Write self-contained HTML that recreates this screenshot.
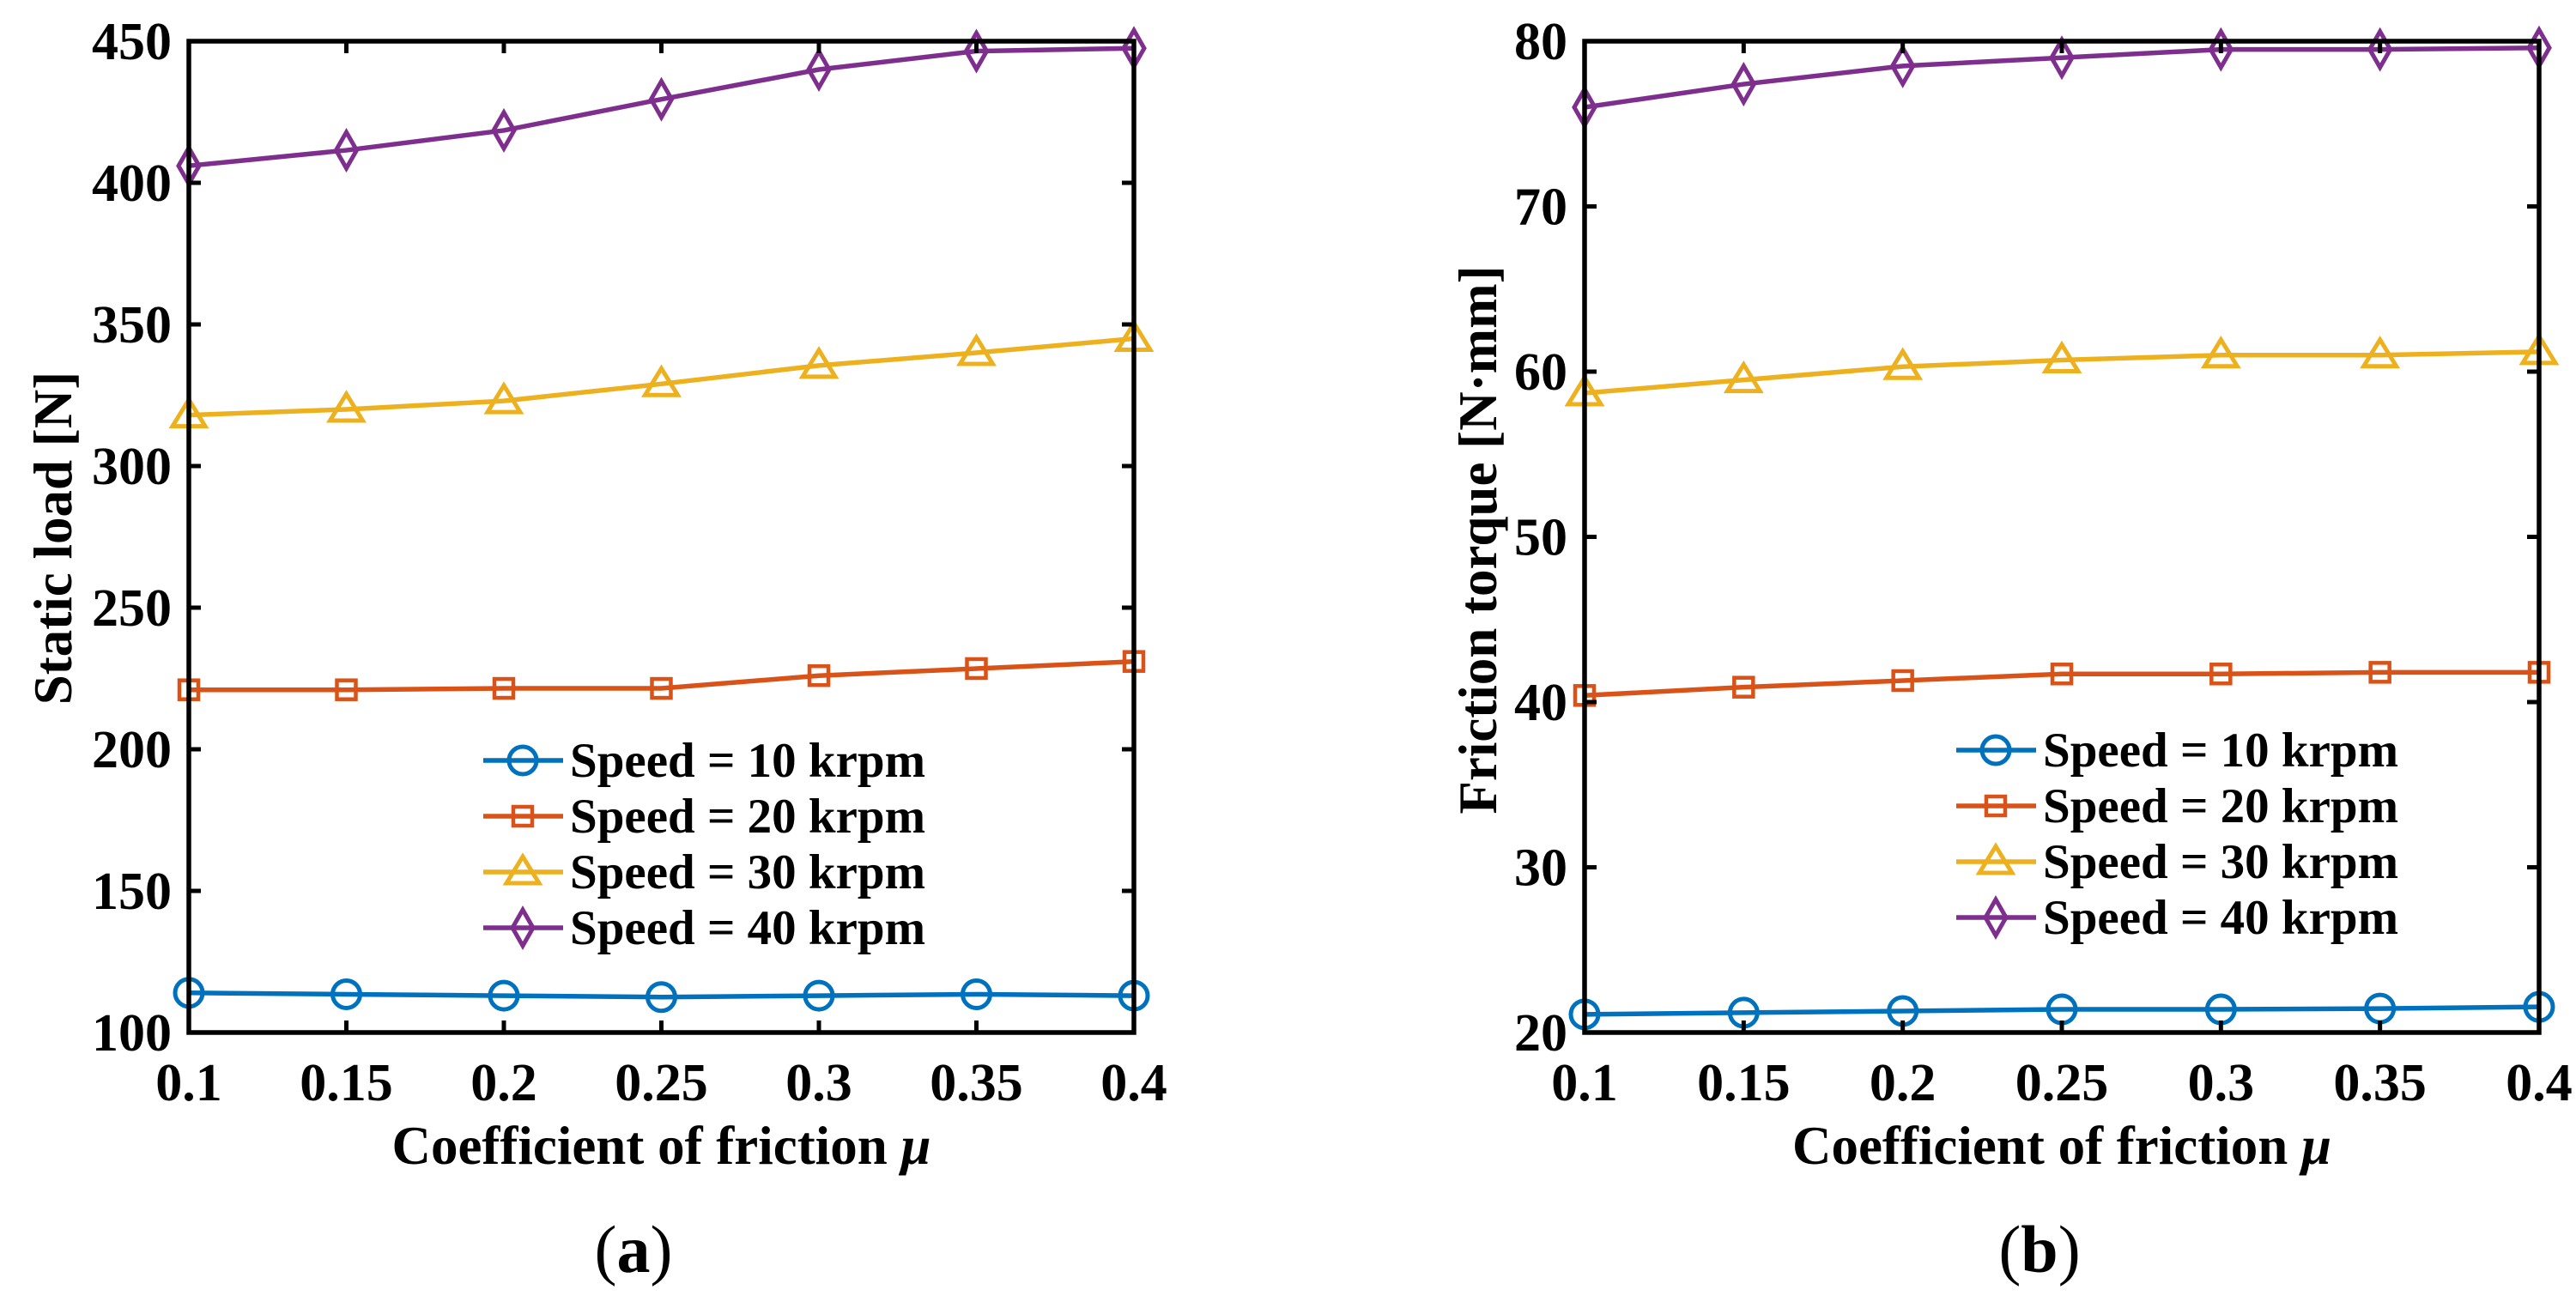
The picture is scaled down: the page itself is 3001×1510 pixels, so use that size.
<!DOCTYPE html>
<html><head><meta charset="utf-8"><style>
html,body{margin:0;padding:0;background:#fff}
svg{display:block;font-family:"Liberation Serif",serif;font-weight:bold}
</style></head><body>
<svg id="fig" width="3001" height="1510" viewBox="0 0 3001 1510" xmlns="http://www.w3.org/2000/svg"></svg>
<script>
const xValues=[0.1,0.15,0.2,0.25,0.3,0.35,0.4];
const xTickLabels=["0.1","0.15","0.2","0.25","0.3","0.35","0.4"];
const seriesNames=["Speed = 10 krpm","Speed = 20 krpm","Speed = 30 krpm","Speed = 40 krpm"];
const loadS10=[114,113.5,113,112.5,113,113.5,113];
const loadS20=[221,221,221.5,221.5,226,228.5,231];
const loadS30=[318,320,323,329,335.5,340,345];
const loadS40=[406,411.5,418.5,429.5,440,446.5,447.5];
const torqueS10=[21.1,21.2,21.3,21.4,21.4,21.45,21.55];
const torqueS20=[40.4,40.9,41.3,41.7,41.7,41.8,41.8];
const torqueS30=[58.7,59.5,60.3,60.7,61,61,61.2];
const torqueS40=[76,77.4,78.5,79,79.5,79.5,79.6];
const loadTicks=[100,150,200,250,300,350,400,450];
const torqueTicks=[20,30,40,50,60,70,80];

const colors=["#0072BD","#D95319","#EDB120","#7E2F8E"];
const markers=["circle","square","triangle","diamond"];
const NS="http://www.w3.org/2000/svg";
const svg=document.getElementById('fig');
function mk(tag,attrs,parent){const e=document.createElementNS(NS,tag);for(const k in attrs)e.setAttribute(k,attrs[k]);(parent||svg).appendChild(e);return e;}

function marker(g,type,cx,cy,col){
  const r=16;let e;
  if(type==="circle")e=mk('circle',{cx:cx,cy:cy,r:r,fill:'none',stroke:col,'stroke-width':5},g);
  else if(type==="square")e=mk('rect',{x:cx-11,y:cy-11,width:22,height:22,fill:'none',stroke:col,'stroke-width':4.5},g);
  else if(type==="triangle")e=mk('polygon',{points:`${cx},${cy-18} ${cx+19},${cy+13} ${cx-19},${cy+13}`,fill:'none',stroke:col,'stroke-width':5},g);
  else e=mk('polygon',{points:`${cx},${cy-21} ${cx+12},${cy} ${cx},${cy+21} ${cx-12},${cy}`,fill:'none',stroke:col,'stroke-width':5},g);
  return e;
}

function panel(opt){
  const {x0,x1,y0,y1,ymin,ymax,ticks,series,ylabel,ylabX,ylabY,tickRight,legX,legY,legDy,tag,tagX,prefix}=opt;
  const g=mk('g',{});
  
  
  const sx=v=>x0+(v-0.1)/(0.4-0.1)*(x1-x0);
  const sy=v=>y1-(v-ymin)/(ymax-ymin)*(y1-y0);
  series.forEach((vals,i)=>{
    const sg=mk('g',{},g);
    
    
    const pts=vals.map((v,j)=>sx(xValues[j])+','+sy(v)).join(' ');
    mk('polyline',{points:pts,fill:'none',stroke:colors[i],'stroke-width':5.5},sg);
    vals.forEach((v,j)=>{const m=marker(sg,markers[i],sx(xValues[j]),sy(v),colors[i]);
      
      });
  });
  const box=mk('rect',{x:x0,y:y0,width:x1-x0,height:y1-y0,fill:'none',stroke:'#000','stroke-width':5.5},g);
  
  
  ticks.forEach(t=>{
    const y=sy(t);
    mk('line',{x1:x0,x2:x0+14,y1:y,y2:y,stroke:'#000','stroke-width':5},g);
    mk('line',{x1:x1,x2:x1-14,y1:y,y2:y,stroke:'#000','stroke-width':5},g);
    const tx=mk('text',{x:tickRight,y:y+21,'text-anchor':'end','font-size':62},g);
    tx.textContent=t;
    
    
  });
  xValues.forEach((v,j)=>{
    const x=sx(v);
    mk('line',{x1:x,x2:x,y1:y1,y2:y1-14,stroke:'#000','stroke-width':5},g);
    mk('line',{x1:x,x2:x,y1:y0,y2:y0+14,stroke:'#000','stroke-width':5},g);
    const tx=mk('text',{x:x,y:1282,'text-anchor':'middle','font-size':62},g);
    tx.textContent=xTickLabels[j];
    
    
  });
  const xl=mk('text',{x:(x0+x1)/2,y:1356,'text-anchor':'middle','font-size':63},g);
  xl.innerHTML='Coefficient of friction <tspan font-style="italic">μ</tspan>';
  
  
  const yl=mk('text',{x:ylabX,y:ylabY,'text-anchor':'middle','font-size':63,transform:`rotate(-90 ${ylabX} ${ylabY})`},g);
  yl.textContent=ylabel;
  
  
  const lg=mk('g',{},g);
  
  
  seriesNames.forEach((n,i)=>{
    const y=legY+i*legDy;
    const eg=mk('g',{},lg);
    
    
    mk('line',{x1:legX,x2:legX+93,y1:y,y2:y,stroke:colors[i],'stroke-width':5.5},eg);
    marker(eg,markers[i],legX+46,y,colors[i]);
    const t=mk('text',{x:legX+101,y:y+19,'font-size':57},eg);
    t.textContent=n;
  });
  const tg=mk('text',{x:tagX,y:1482,'text-anchor':'middle','font-size':78},g);
  tg.innerHTML='<tspan font-weight="normal">(</tspan>'+tag+'<tspan font-weight="normal">)</tspan>';
  
  
}

panel({x0:220,x1:1321,y0:48,y1:1203,ymin:100,ymax:450,ticks:loadTicks,
  series:[loadS10,loadS20,loadS30,loadS40],ylabel:'Static load [N]',ylabX:83,ylabY:627,
  tickRight:200,legX:563,legY:886,legDy:65,tag:'a',tagX:738,prefix:'static-load'});
panel({x0:1846,x1:2958,y0:48,y1:1203,ymin:20,ymax:80,ticks:torqueTicks,
  series:[torqueS10,torqueS20,torqueS30,torqueS40],ylabel:'Friction torque [N·mm]',ylabX:1743,ylabY:629,
  tickRight:1826,legX:2279,legY:874,legDy:65,tag:'b',tagX:2376,prefix:'friction-torque'});
</script>
</body></html>
